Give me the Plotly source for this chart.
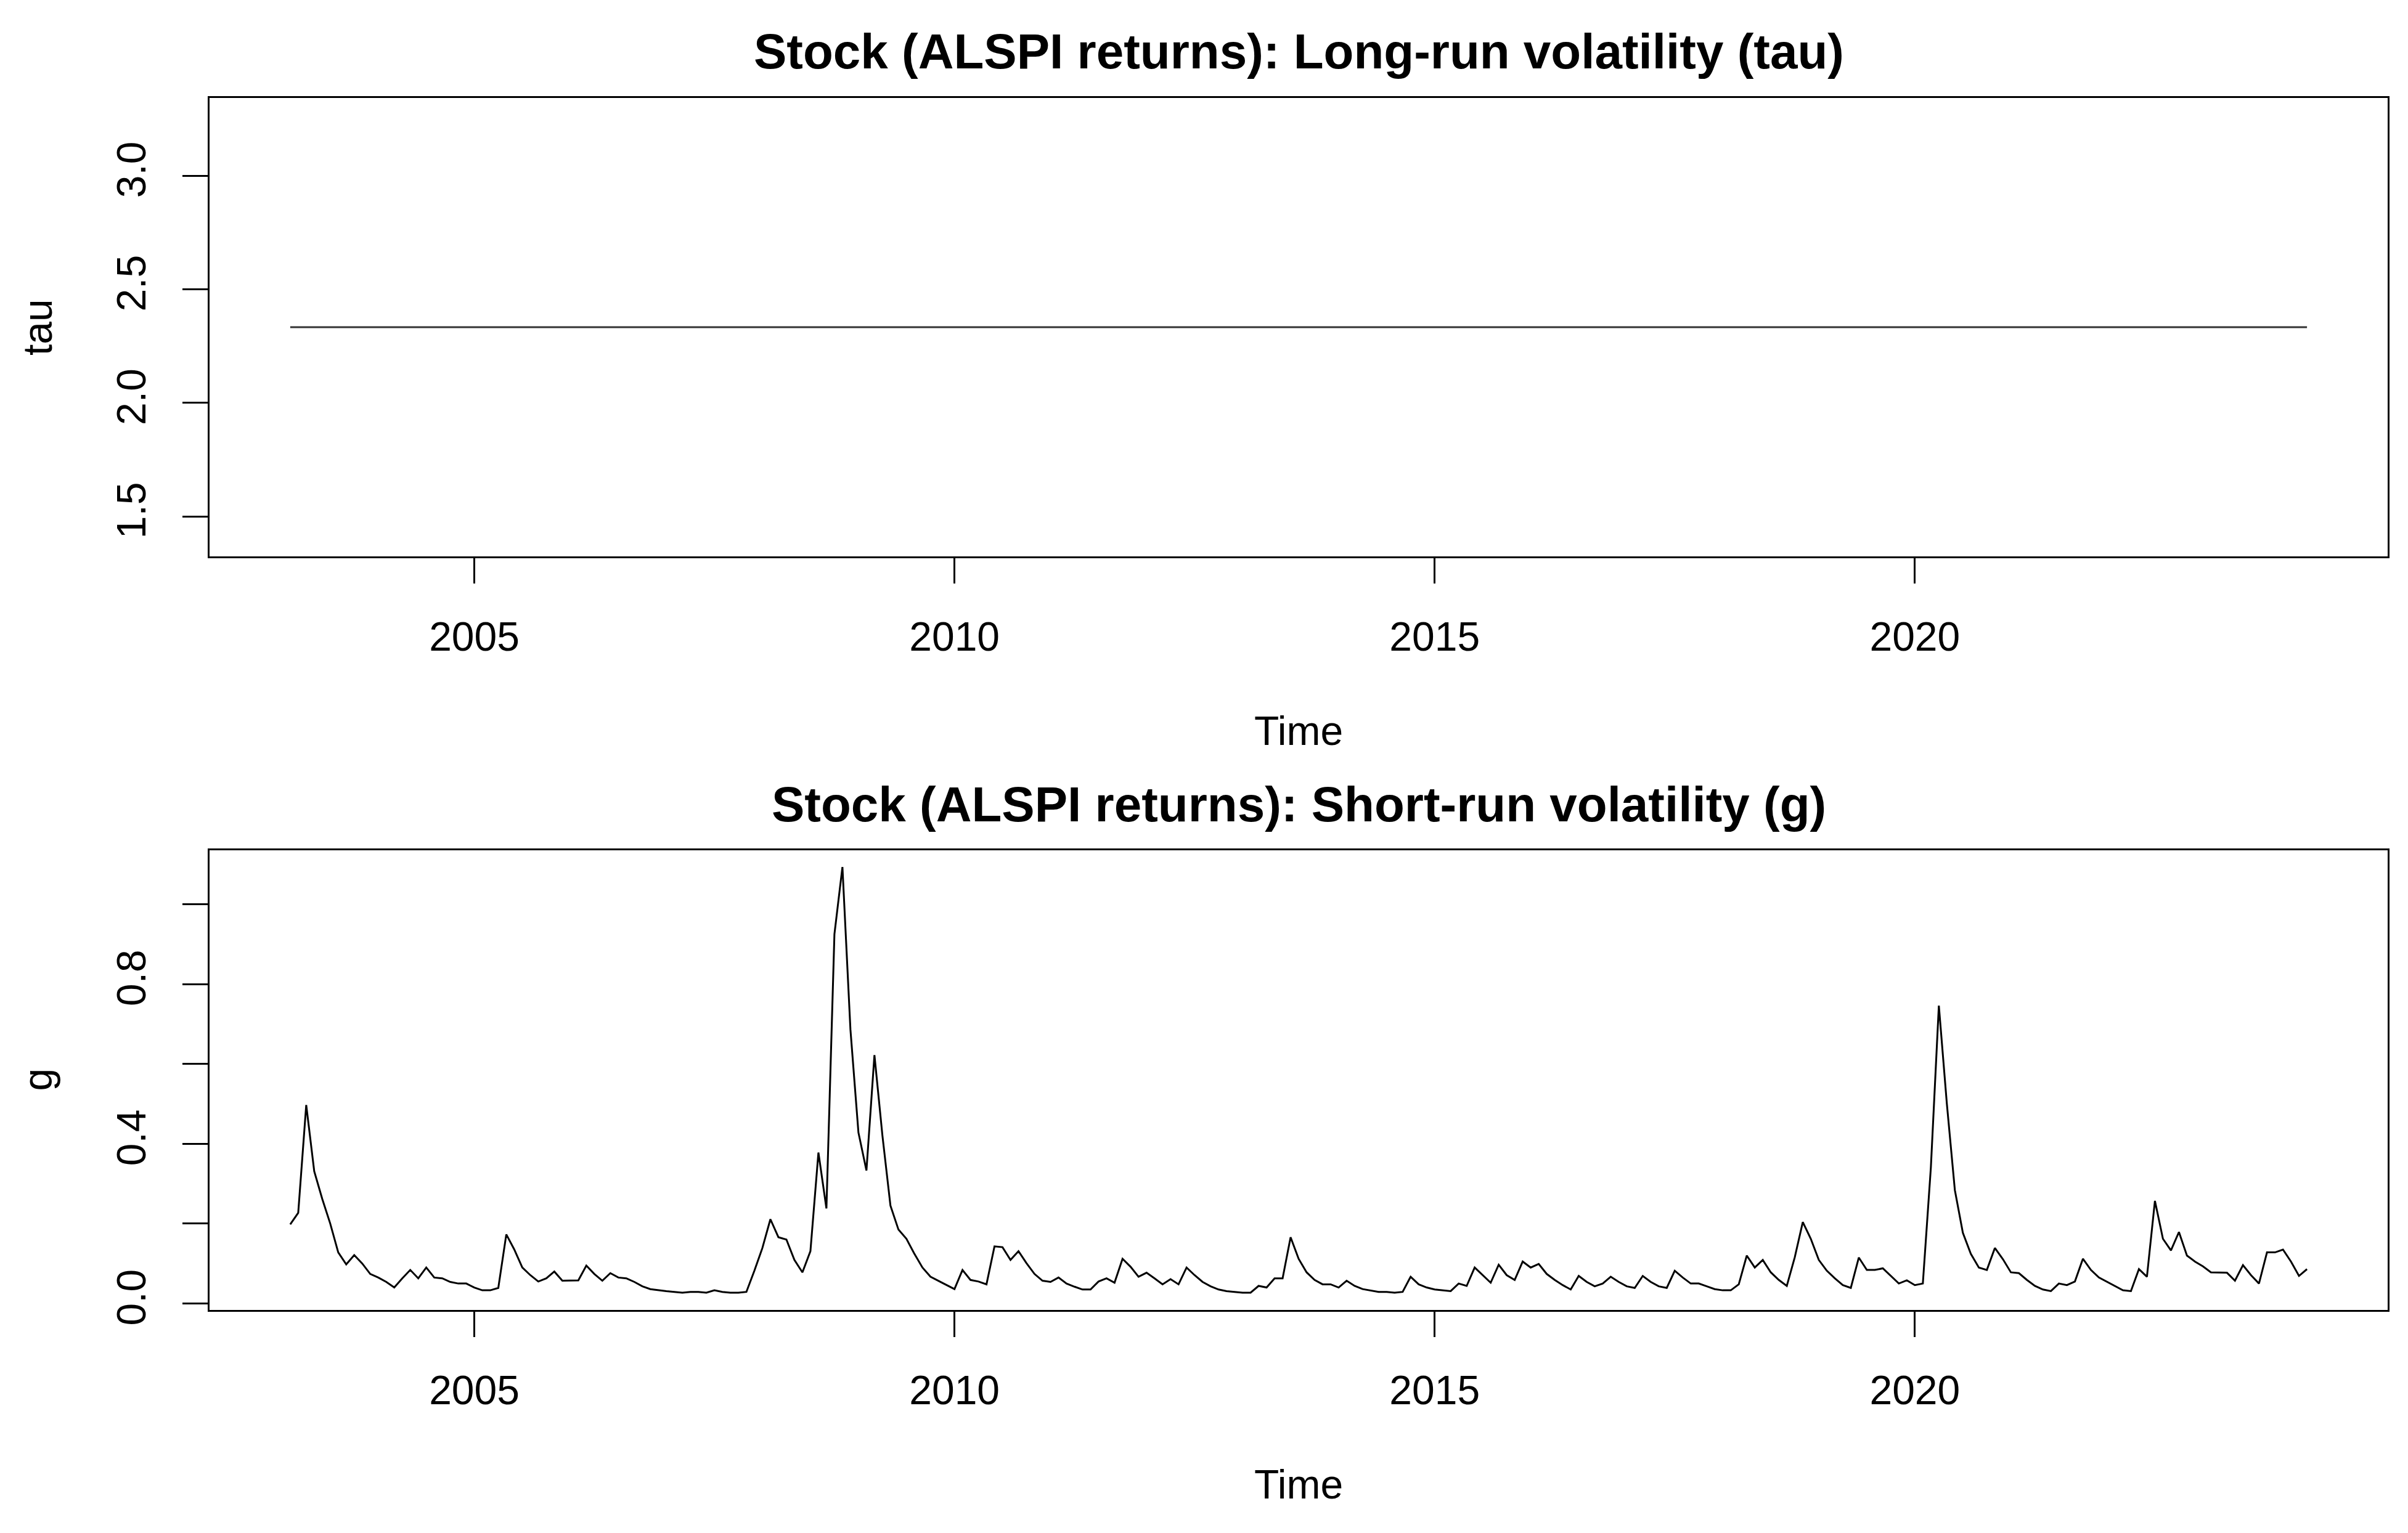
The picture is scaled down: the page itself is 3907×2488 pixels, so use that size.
import plotly.graph_objects as go

# ---- data (monthly, Feb 2003 .. Feb 2024) ----
start_year = 2003
start_month = 2          # February
freq = 12

g_values = [
    0.198, 0.227, 0.497, 0.331, 0.262, 0.200, 0.128, 0.098, 0.121, 0.100,
    0.074, 0.065, 0.054, 0.040, 0.063, 0.084, 0.063, 0.090, 0.065, 0.063,
    0.054, 0.050, 0.050, 0.040, 0.033, 0.033, 0.039, 0.173, 0.135, 0.090,
    0.071, 0.055, 0.063, 0.080, 0.057, 0.057, 0.058, 0.095, 0.074, 0.057,
    0.076, 0.065, 0.063, 0.054, 0.043, 0.036, 0.033, 0.031, 0.029, 0.027,
    0.029, 0.029, 0.027, 0.033, 0.029, 0.027, 0.027, 0.029, 0.082, 0.139,
    0.211, 0.166, 0.160, 0.109, 0.078, 0.131, 0.378, 0.238, 0.925, 1.093,
    0.686, 0.428, 0.333, 0.622, 0.420, 0.245, 0.185, 0.162, 0.124, 0.090,
    0.067, 0.057, 0.046, 0.036, 0.084, 0.059, 0.055, 0.048, 0.143, 0.141,
    0.109, 0.131, 0.101, 0.074, 0.057, 0.054, 0.065, 0.050, 0.042, 0.035,
    0.035, 0.055, 0.063, 0.052, 0.112, 0.092, 0.067, 0.077, 0.063, 0.048,
    0.061, 0.048, 0.090, 0.071, 0.054, 0.043, 0.035, 0.031, 0.029, 0.027,
    0.027, 0.044, 0.040, 0.063, 0.063, 0.166, 0.112, 0.078, 0.059, 0.048,
    0.048, 0.040, 0.057, 0.044, 0.036, 0.033, 0.029, 0.029, 0.027, 0.029,
    0.067, 0.048, 0.040, 0.035, 0.033, 0.031, 0.050, 0.044, 0.090, 0.071,
    0.052, 0.097, 0.071, 0.059, 0.105, 0.090, 0.099, 0.074, 0.059, 0.046,
    0.035, 0.069, 0.054, 0.043, 0.050, 0.067, 0.054, 0.043, 0.039, 0.069,
    0.054, 0.043, 0.039, 0.082, 0.065, 0.050, 0.050, 0.043, 0.036, 0.033,
    0.033, 0.048, 0.120, 0.090, 0.109, 0.078, 0.059, 0.044, 0.116, 0.204,
    0.162, 0.109, 0.082, 0.063, 0.046, 0.039, 0.115, 0.084, 0.084, 0.088,
    0.069, 0.050, 0.058, 0.046, 0.050, 0.340, 0.746, 0.500, 0.284, 0.177,
    0.124, 0.090, 0.084, 0.139, 0.111, 0.078, 0.076, 0.059, 0.044, 0.035,
    0.031, 0.050, 0.046, 0.055, 0.112, 0.084, 0.065, 0.054, 0.043, 0.033,
    0.031, 0.086, 0.067, 0.257, 0.162, 0.133, 0.179, 0.120, 0.105, 0.093,
    0.078, 0.077, 0.077, 0.057, 0.096, 0.071, 0.050, 0.128, 0.128, 0.135,
    0.105, 0.069, 0.086,
]

tau_value = 2.3335
tau_values = [tau_value] * len(g_values)

x_tick_vals = [2005, 2010, 2015, 2020]
x_tick_text = ["2005", "2010", "2015", "2020"]
tau_tick_vals = [1.5, 2.0, 2.5, 3.0]
tau_tick_text = ["1.5", "2.0", "2.5", "3.0"]
g_tick_vals = [0.0, 0.2, 0.4, 0.6, 0.8, 1.0]
g_tick_text = ["0.0", "", "0.4", "", "0.8", ""]

title_top = "Stock (ALSPI returns): Long-run volatility (tau)"
title_bottom = "Stock (ALSPI returns): Short-run volatility (g)"

# ---- time index (ts with frequency 12) ----
t0 = start_year + (start_month - 1) / freq
time = [t0 + i / freq for i in range(len(g_values))]


def r_range(vals):
    lo, hi = min(vals), max(vals)
    if hi == lo:
        d = 0.4 * abs(lo) if lo != 0 else 1.0
        lo, hi = lo - d, hi + d
    ext = 0.04 * (hi - lo)
    return [lo - ext, hi + ext]


W, H = 3907, 2488
FONT = "Liberation Sans, Arial, Helvetica, sans-serif"
BASE = 66
TITLE = 80

box_l, box_r = 332, 3866
top_t, top_b = 153, 904
bot_t, bot_b = 1386, 2140

xdom = [box_l / W, box_r / W]
ydom_top = [1 - top_b / H, 1 - top_t / H]
ydom_bot = [1 - bot_b / H, 1 - bot_t / H]

fig = go.Figure()
fig.add_trace(go.Scatter(x=time, y=tau_values, mode="lines",
                         line=dict(color="#333333", width=3),
                         xaxis="x", yaxis="y", showlegend=False))
fig.add_trace(go.Scatter(x=time, y=g_values, mode="lines",
                         line=dict(color="black", width=3),
                         xaxis="x2", yaxis="y2", showlegend=False))

common = dict(showline=True, mirror=True, linecolor="black", linewidth=3,
              ticks="outside", ticklen=41, tickwidth=3, tickcolor="black",
              showgrid=False, zeroline=False,
              tickfont=dict(family=FONT, size=BASE, color="black"))

xr = r_range(time)
fig.update_layout(
    width=W, height=H,
    margin=dict(l=0, r=0, t=0, b=0),
    paper_bgcolor="white", plot_bgcolor="white",
    xaxis=dict(domain=xdom, range=xr, tickmode="array",
               tickvals=x_tick_vals, ticktext=x_tick_text,
               anchor="y", ticklabelstandoff=30, **common),
    yaxis=dict(domain=ydom_top, range=r_range(tau_values), tickmode="array",
               tickvals=tau_tick_vals, ticktext=tau_tick_text,
               tickangle=-90, anchor="x", ticklabelstandoff=34, **common),
    xaxis2=dict(domain=xdom, range=xr, tickmode="array",
                tickvals=x_tick_vals, ticktext=x_tick_text,
                anchor="y2", ticklabelstandoff=30, **common),
    yaxis2=dict(domain=ydom_bot, range=r_range(g_values), tickmode="array",
                tickvals=g_tick_vals, ticktext=g_tick_text,
                tickangle=-90, anchor="x2", ticklabelstandoff=34, **common),
)

xc = (box_l + box_r) / 2 / W
ann = [
    dict(text="<b>" + title_top + "</b>", x=xc, y=1 - 76 / H,
         font=dict(family=FONT, size=TITLE, color="black")),
    dict(text="<b>" + title_bottom + "</b>", x=xc, y=1 - 1311 / H,
         font=dict(family=FONT, size=TITLE, color="black")),
    dict(text="Time", x=xc, y=1 - 1190 / H,
         font=dict(family=FONT, size=BASE, color="black")),
    dict(text="Time", x=xc, y=1 - 2426 / H,
         font=dict(family=FONT, size=BASE, color="black")),
    dict(text="tau", x=53 / W, y=1 - (top_t + top_b) / 2 / H, textangle=-90,
         font=dict(family=FONT, size=BASE, color="black")),
    dict(text="g", x=53 / W, y=1 - (bot_t + bot_b) / 2 / H, textangle=-90,
         font=dict(family=FONT, size=BASE, color="black")),
]
for a in ann:
    a.update(xref="paper", yref="paper", showarrow=False,
             xanchor="center", yanchor="middle")
fig.update_layout(annotations=ann)

fig.write_html("out.html")
